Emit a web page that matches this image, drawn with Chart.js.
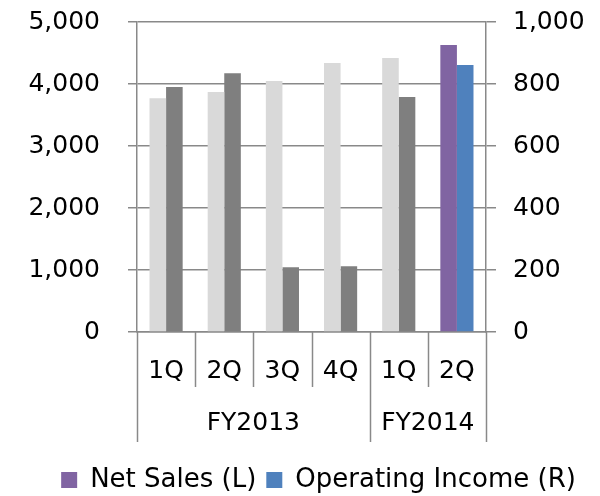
<!DOCTYPE html>
<html>
<head>
<meta charset="utf-8">
<script src="https://cdn.jsdelivr.net/npm/chart.js@4/dist/chart.umd.min.js"></script>
<style>
html,body{margin:0;padding:0;background:#fff;}
#wrap{position:relative;width:600px;height:496px;}
</style>
</head>
<body>
<div id="wrap"><canvas id="c" width="600" height="496"></canvas></div>
<script>
const quarters = ['1Q','2Q','3Q','4Q','1Q','2Q'];
const fiscalYears = ['FY2013','FY2014'];
const fiscalYearSizes = [4, 2];
const netSales = [3770, 3870, 4050, 4340, 4420, 4630];
const operatingIncome = [790, 835, 209, 212, 758, 861];
const netSalesColors = ['#d9d9d9','#d9d9d9','#d9d9d9','#d9d9d9','#d9d9d9','#8064a2'];
const opIncomeColors = ['#7f7f7f','#7f7f7f','#7f7f7f','#7f7f7f','#7f7f7f','#4f81bd'];
const leftTicks = [0, 1000, 2000, 3000, 4000, 5000];
const rightTicks = [0, 200, 400, 600, 800, 1000];

const FONT = 'DejaVu Sans';
const GRID = '#898989';

const groupPlugin = {
  id: 'groupPlugin',
  beforeDraw(chart) {
    if (chart.legend) { chart.legend.left = 37; chart.legend.right = 600; }
  },
  afterDraw(chart) {
    const x = chart.scales.x;
    const ctx = chart.ctx;
    const top = chart.chartArea.bottom;
    const half = (x.getPixelForValue(1) - x.getPixelForValue(0)) / 2;
    const groupEdges = [0];
    let acc = 0;
    fiscalYearSizes.forEach(s => { acc += s; groupEdges.push(acc); });
    ctx.save();
    ctx.strokeStyle = GRID;
    ctx.lineWidth = 1.5;
    for (let i = 0; i <= quarters.length; i++) {
      const px = Math.round(x.getPixelForValue(i) - half) + 0.5;
      const isGroup = groupEdges.includes(i);
      ctx.beginPath();
      ctx.moveTo(px, top);
      ctx.lineTo(px, top + (isGroup ? 110 : 55));
      ctx.stroke();
    }
    ctx.fillStyle = '#000';
    ctx.font = '25px "' + FONT + '"';
    ctx.textAlign = 'center';
    ctx.textBaseline = 'middle';
    for (let g = 0; g < fiscalYears.length; g++) {
      const a = x.getPixelForValue(groupEdges[g]) - half;
      const b = x.getPixelForValue(groupEdges[g + 1]) - half;
      ctx.fillText(fiscalYears[g], (a + b) / 2, top + 91);
    }
    ctx.restore();
  }
};

new Chart(document.getElementById('c'), {
  type: 'bar',
  data: {
    labels: quarters,
    datasets: [
      { label: 'Net Sales (L)', data: netSales, backgroundColor: netSalesColors, yAxisID: 'y', borderWidth: 0 },
      { label: 'Operating Income (R)', data: operatingIncome, backgroundColor: opIncomeColors, yAxisID: 'y1', borderWidth: 0 }
    ]
  },
  plugins: [groupPlugin],
  options: {
    responsive: false,
    animation: false,
    devicePixelRatio: 1,
    layout: { padding: { left: 0, right: 0, top: 22, bottom: -7 } },
    datasets: { bar: { categoryPercentage: 0.57, barPercentage: 1.0 } },
    plugins: {
      tooltip: { enabled: false },
      legend: {
        position: 'bottom',
        labels: {
          font: { family: FONT, size: 26 },
          color: '#000',
          boxWidth: 16,
          boxHeight: 16,
          padding: 10,
          generateLabels(chart) {
            const items = Chart.defaults.plugins.legend.labels.generateLabels(chart);
            items.forEach(it => {
              const ds = chart.data.datasets[it.datasetIndex];
              const col = ds.backgroundColor[ds.backgroundColor.length - 1];
              it.fillStyle = col;
              it.strokeStyle = col;
              it.lineWidth = 0;
            });
            return items;
          }
        }
      }
    },
    scales: {
      x: {
        offset: true,
        grid: { display: false, drawOnChartArea: false, drawTicks: false },
        border: { display: true, color: GRID, width: 1.5 },
        ticks: { font: { family: FONT, size: 25 }, color: '#000', padding: 24, maxRotation: 0, autoSkip: false },
        afterFit(s) { s.height = 125; }
      },
      y: {
        position: 'left',
        min: 0, max: 5000,
        afterBuildTicks(s) { s.ticks = leftTicks.map(v => ({ value: v })); },
        grid: { color: GRID, lineWidth: 1.5, tickLength: 9, drawTicks: true },
        border: { display: true, color: GRID, width: 1.5 },
        ticks: {
          font: { family: FONT, size: 25 }, color: '#000', padding: 28,
          callback: v => v.toLocaleString('en-US')
        },
        afterFit(s) { s.width = 137; s.paddingTop = 15; s.paddingBottom = 15; }
      },
      y1: {
        position: 'right',
        min: 0, max: 1000,
        afterBuildTicks(s) { s.ticks = rightTicks.map(v => ({ value: v })); },
        grid: { color: GRID, lineWidth: 1.5, tickLength: 10, drawOnChartArea: false, drawTicks: true },
        border: { display: true, color: GRID, width: 1.5 },
        ticks: {
          font: { family: FONT, size: 25 }, color: '#000', padding: 17,
          callback: v => v.toLocaleString('en-US')
        },
        afterFit(s) { s.width = 114; s.paddingTop = 15; s.paddingBottom = 15; }
      }
    }
  }
});
</script>
</body>
</html>
